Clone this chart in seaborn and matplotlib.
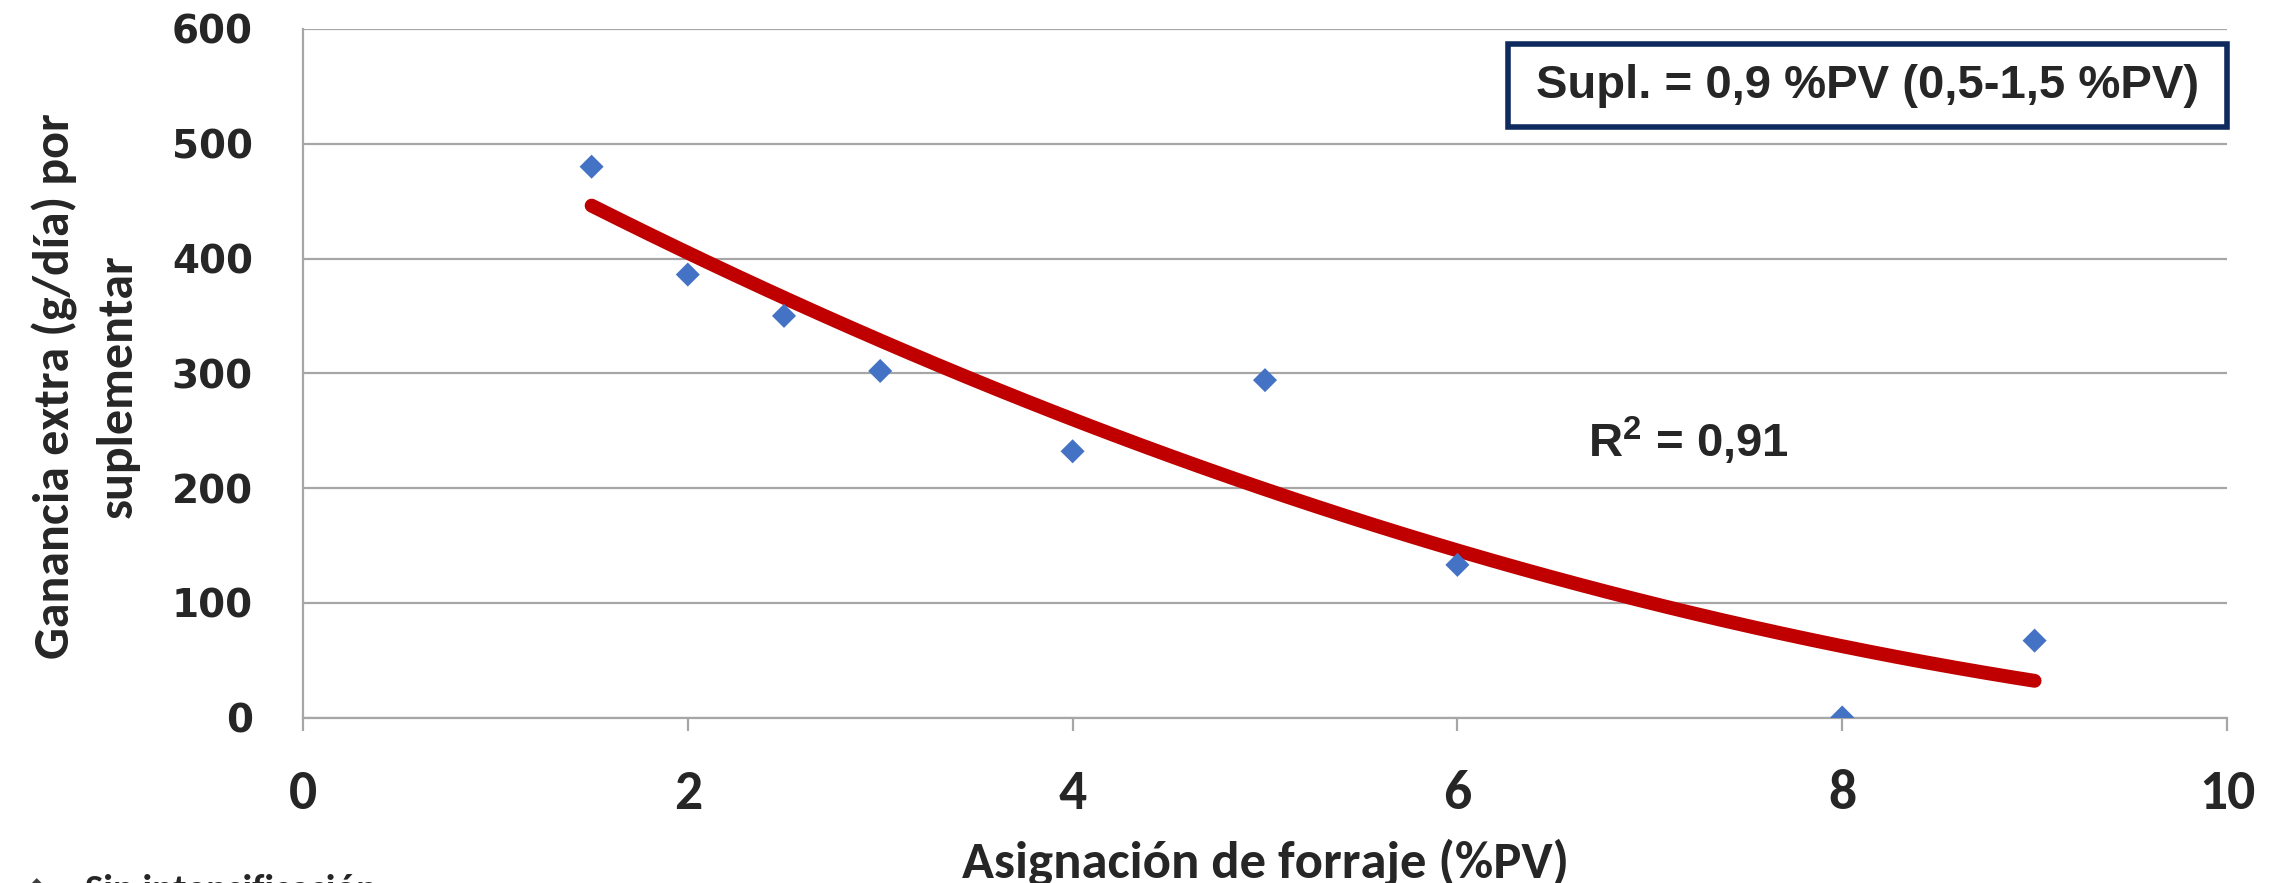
import numpy as np
import pandas as pd
import matplotlib
matplotlib.use("Agg")
import matplotlib.pyplot as plt
from matplotlib import font_manager
from matplotlib.patches import Rectangle
import seaborn as sns

# Forage allowance (%PV) and extra daily gain from supplementing (g/day)
asignacion = [1.5, 2.0, 2.5, 3.0, 4.0, 5.0, 6.0, 8.0, 9.0]
ganancia = [480, 386, 350, 302, 232, 294, 133, 0, 67]

x_ticks = [0, 2, 4, 6, 8, 10]
y_ticks = [0, 100, 200, 300, 400, 500, 600]

x_label = "Asignación de forraje (%PV)"
y_label = "Ganancia extra (g/día) por\nsuplementar"
box_text = "Supl. = 0,9 %PV (0,5-1,5 %PV)"
r2_text = r"$\mathbf{R^2}$ = 0,91"
legend_text = "Sin intensificación"

sns.set_theme(style="white")

available = {f.name for f in font_manager.fontManager.ttflist}


def pick(*names):
    for n in names:
        if n in available:
            return n
    return "DejaVu Sans"


humanist = pick("Carlito", "Lato", "Open Sans", "Noto Sans")
arial = pick("Liberation Sans", "Arimo", "DejaVu Sans")
plt.rcParams["font.family"] = [humanist, "DejaVu Sans"]
plt.rcParams["mathtext.fontset"] = "custom"
plt.rcParams["mathtext.bf"] = f"{arial}:bold"
plt.rcParams["mathtext.rm"] = arial

W, H = 2282, 883
fig = plt.figure(figsize=(W / 100, H / 100), dpi=100)
ax_l, ax_r, ax_t, ax_b = 303, 2227, 29, 717.5
ax = fig.add_axes([ax_l / W, (H - ax_b) / H, (ax_r - ax_l) / W, (ax_b - ax_t) / H])

df = pd.DataFrame({"asignacion": asignacion, "ganancia": ganancia})

# second-order polynomial trend line over the observed range
coef = np.polyfit(asignacion, ganancia, 2)
xs = np.linspace(min(asignacion), max(asignacion), 200)
trend = pd.DataFrame({"x": xs, "y": np.polyval(coef, xs)})

sns.lineplot(data=trend, x="x", y="y", ax=ax, color="#C00000", linewidth=10,
             solid_capstyle="round", zorder=3)
sns.scatterplot(data=df, x="asignacion", y="ganancia", ax=ax, marker="D",
                s=150, color="#4472C4", edgecolor="none", zorder=4)

ax.set_xlim(0, 10)
ax.set_ylim(0, 600)
ax.set_xticks(x_ticks)
ax.set_yticks(y_ticks)
ax.set_xticklabels([str(v) for v in x_ticks], fontsize=40, fontweight="bold",
                   family=humanist)
ax.set_yticklabels([str(v) for v in y_ticks], fontsize=28, fontweight="bold",
                   family="DejaVu Sans")

ax.grid(axis="y", color="#A6A6A6", linewidth=1.6)
ax.grid(axis="x", visible=False)
for s in ["top", "right"]:
    ax.spines[s].set_visible(False)
for s in ["left", "bottom"]:
    ax.spines[s].set_color("#A6A6A6")
    ax.spines[s].set_linewidth(1.6)
ax.tick_params(axis="x", length=9, width=1.6, color="#A6A6A6", pad=28,
               bottom=True)
ax.tick_params(axis="y", length=0, pad=36, left=True)

ax.set_xlabel(x_label, fontsize=38, fontweight="bold", va="center")
ax.xaxis.set_label_coords(0.5, (ax_b - 862) / (ax_b - ax_t))
ax.set_ylabel(y_label, fontsize=36, fontweight="bold", va="center",
              linespacing=1.5)
ax.yaxis.set_label_coords((86 - ax_l) / (ax_r - ax_l), (ax_b - 386) / (ax_b - ax_t))

# annotation box in the upper-right corner
bx0 = (1508 - ax_l) / (ax_r - ax_l)
by1 = (ax_b - 44) / (ax_b - ax_t)
by0 = (ax_b - 127) / (ax_b - ax_t)
ax.add_patch(Rectangle((bx0, by0), 1 - bx0, by1 - by0, transform=ax.transAxes,
                       facecolor="white", edgecolor="#0E2A5E", linewidth=4,
                       zorder=5, clip_on=False))
ax.text((bx0 + 1) / 2, (by0 + by1) / 2, box_text, transform=ax.transAxes,
        ha="center", va="center", fontsize=34, fontweight="bold",
        family=arial, zorder=6)

ax.text((1688 - ax_l) / (ax_r - ax_l), (ax_b - 441) / (ax_b - ax_t), r2_text,
        transform=ax.transAxes, ha="center", va="center", fontsize=34,
        fontweight="bold", family=arial, zorder=6)

# series legend running off the lower-left edge of the figure
fig.text(37 / W, 0.009, "◆", ha="center", va="top", fontsize=22,
         color="#404040", family="DejaVu Sans")
fig.text(85 / W, 0.010, legend_text, ha="left", va="top", fontsize=28,
         fontweight="bold")

fig.savefig("out.png", dpi=100)
